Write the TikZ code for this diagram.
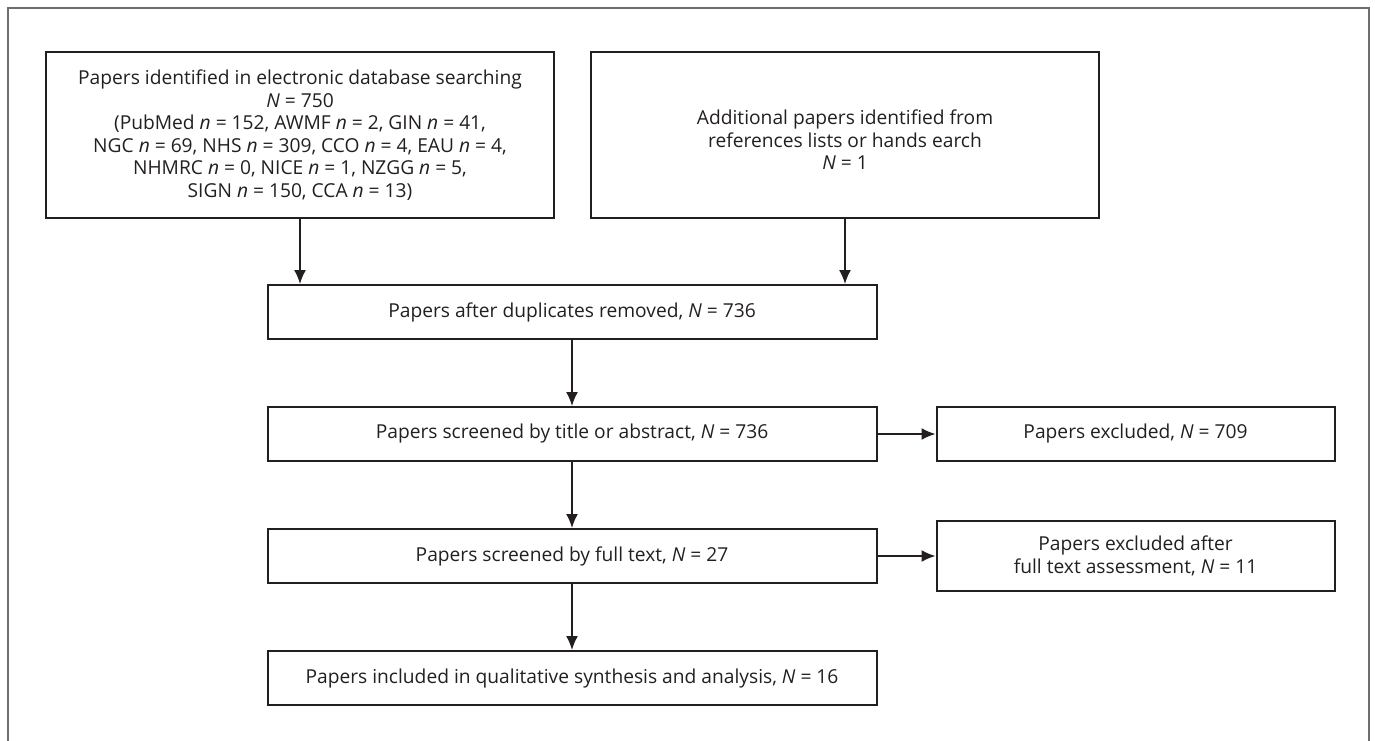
\documentclass[tikz,border=0pt]{standalone}
\usepackage{fontspec}
\setmainfont{Open Sans}
\usetikzlibrary{arrows.meta,positioning}
\definecolor{inkline}{HTML}{231F20}
\definecolor{framegray}{HTML}{6D6E71}
\tikzset{
    block/.style={draw=inkline, line width=1pt, rectangle, align=center,
        inner sep=0pt, text=inkline,
        font=\fontsize{9.6}{11.25}\selectfont},
    wide/.style={block, minimum width=304.5pt, minimum height=27pt},
    side/.style={block, minimum width=199pt, minimum height=27pt},
    flow/.style={draw=inkline, line width=0.8pt, -{Latex[length=7pt,width=6pt]}}
}
\newcommand{\nn}[1]{\textit{#1}}

\begin{document}
\begin{tikzpicture}[x=0.5pt, y=-0.5pt]
    \useasboundingbox (0,0) rectangle (1375,740);
    % frame, open at the bottom
    \draw[framegray, line width=1pt] (8,745) -- (8,8) -- (1369,8) -- (1369,745);

    \node [block, minimum width=254pt, minimum height=83pt] (db) at (300,135)
        {Papers identified in electronic database searching\\
         \nn{N} = 750\\
         (PubMed \nn{n} = 152, AWMF \nn{n} = 2, GIN \nn{n} = 41,\\
         NGC \nn{n} = 69, NHS \nn{n} = 309, CCO \nn{n} = 4, EAU \nn{n} = 4,\\
         NHMRC \nn{n} = 0, NICE \nn{n} = 1, NZGG \nn{n} = 5,\\
         SIGN \nn{n} = 150, CCA \nn{n} = 13)};
    \node [block, minimum width=254pt, minimum height=83pt, right=17.5pt of db,
        label={[block, draw=none, yshift=-2.5pt]center:{Additional papers identified from\\
         references lists or hands earch\\
         \nn{N} = 1}}] (add) {};
    \node [wide] (dup) at (572,312) {Papers after duplicates removed, \nn{N} = 736};
    \node [wide, below=33pt of dup] (title) {Papers screened by title or abstract, \nn{N} = 736};
    \node [wide, below=33pt of title] (full) {Papers screened by full text, \nn{N} = 27};
    \node [wide, below=33pt of full] (incl) {Papers included in qualitative synthesis and analysis, \nn{N} = 16};
    \node [side, right=29pt of title] (excl) {Papers excluded, \nn{N} = 709};
    \node [side, minimum height=35pt, right=29pt of full] (exclft)
        {Papers excluded after\\ full text assessment, \nn{N} = 11};

    \draw [flow] (db.south) -- (db.south |- dup.north);
    \draw [flow] (add.south) -- (add.south |- dup.north);
    \draw [flow] (dup.south) -- (title.north);
    \draw [flow] (title.south) -- (full.north);
    \draw [flow] (full.south) -- (incl.north);
    \draw [flow] (title.east) -- (excl.west);
    \draw [flow] (full.east) -- (exclft.west);
\end{tikzpicture}
\end{document}
